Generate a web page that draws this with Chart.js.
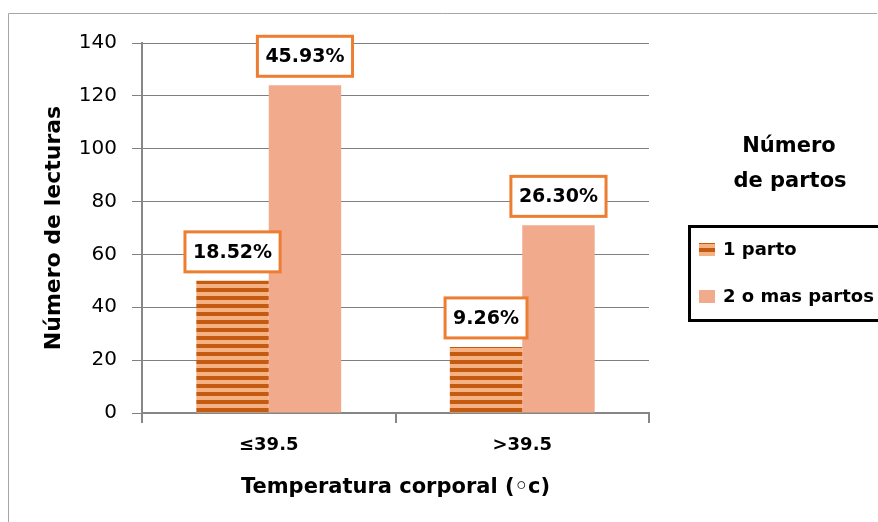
<!DOCTYPE html>
<html>
<head>
<meta charset="utf-8">
<script src="https://cdn.jsdelivr.net/npm/chart.js@4"></script>
<style>
  html, body { margin: 0; padding: 0; background: #fff; }
  #wrap { width: 878px; height: 522px; position: relative; }
</style>
</head>
<body>
<div id="wrap"><canvas id="c" width="878" height="522"></canvas></div>
<script>
// Temperature groups and number of readings per parity group
const categories = ['≤39.5', '>39.5'];
const seriesNames = ['1 parto', '2 o mas partos'];
const unParto = [50, 25];
const dosOMasPartos = [124, 71];
const yTicks = [0, 20, 40, 60, 80, 100, 120, 140];

const totalReadings = unParto.concat(dosOMasPartos).reduce((a, b) => a + b, 0);

// Horizontal stripe fill for the "1 parto" series
function stripePattern(ctx) {
  const p = document.createElement('canvas');
  p.width = 8; p.height = 8;
  const g = p.getContext('2d');
  g.fillStyle = '#F4B183';
  g.fillRect(0, 0, 8, 8);
  g.fillStyle = '#C55A11';
  g.fillRect(0, 0, 8, 4);
  return ctx.createPattern(p, 'repeat');
}

const canvas = document.getElementById('c');
const ctx = canvas.getContext('2d');
const stripes = stripePattern(ctx);
const solidColor = '#F2AA8C';

// Light frame around the figure
const framePlugin = {
  id: 'frame',
  beforeDraw(chart) {
    const c = chart.ctx;
    c.save();
    c.strokeStyle = '#A6A6A6';
    c.lineWidth = 1;
    c.beginPath();
    c.moveTo(8.5, 522);
    c.lineTo(8.5, 13.5);
    c.lineTo(877, 13.5);
    c.stroke();
    c.restore();
  }
};

// Percentage of all readings, shown in a boxed label above each bar
const valueLabelPlugin = {
  id: 'valueLabels',
  afterDatasetsDraw(chart) {
    const c = chart.ctx;
    c.save();
    c.font = 'bold 19px "DejaVu Sans"';
    c.textAlign = 'center';
    c.textBaseline = 'middle';
    chart.data.datasets.forEach((ds, di) => {
      const meta = chart.getDatasetMeta(di);
      meta.data.forEach((el, i) => {
        const text = (ds.data[i] / totalReadings * 100).toFixed(2) + '%';
        const w = c.measureText(text).width + 16;
        const h = 40;
        const bottom = el.y - 9;
        const x = el.x - w / 2;
        const y = bottom - h;
        c.fillStyle = '#fff';
        c.fillRect(x, y, w, h);
        c.strokeStyle = '#ED7D31';
        c.lineWidth = 3;
        c.strokeRect(x, y, w, h);
        c.fillStyle = '#000';
        c.fillText(text, el.x, y + h / 2 + 1);
      });
    });
    c.restore();
  }
};

// Legend with title and black box on the right side
const sideLegendPlugin = {
  id: 'sideLegend',
  afterDraw(chart) {
    const c = chart.ctx;
    c.save();
    c.fillStyle = '#000';
    c.textAlign = 'center';
    c.textBaseline = 'alphabetic';
    c.font = 'bold 21px "DejaVu Sans"';
    c.fillText('Número', 789, 152);
    c.fillText('de partos', 790, 187);

    c.strokeStyle = '#000';
    c.lineWidth = 3;
    c.strokeRect(689.5, 226.5, 200, 94);

    c.font = 'bold 18px "DejaVu Sans"';
    c.textAlign = 'left';
    c.textBaseline = 'middle';
    const rows = [249, 296];
    chart.data.datasets.forEach((ds, i) => {
      const y = rows[i];
      c.fillStyle = ds.backgroundColor;
      c.fillRect(699, y - 6, 16, 13);
      c.fillStyle = '#000';
      c.fillText(ds.label, 723, y + 1);
    });
    c.restore();
  }
};

new Chart(ctx, {
  type: 'bar',
  data: {
    labels: categories,
    datasets: [
      { label: seriesNames[0], data: unParto, backgroundColor: stripes },
      { label: seriesNames[1], data: dosOMasPartos, backgroundColor: solidColor }
    ]
  },
  options: {
    responsive: false,
    animation: false,
    devicePixelRatio: 1,
    layout: { padding: { top: 43, right: 229, bottom: 0, left: 0 } },
    datasets: { bar: { categoryPercentage: 144 / 252, barPercentage: 1.0 } },
    plugins: {
      legend: { display: false },
      tooltip: { enabled: false }
    },
    scales: {
      x: {
        afterFit(scale) { scale.height = 109; },
        grid: {
          drawOnChartArea: false,
          drawTicks: true,
          tickLength: 10,
          color: '#868686',
          lineWidth: 2
        },
        border: { color: '#868686', width: 2 },
        ticks: {
          color: '#000',
          padding: 12,
          font: { family: 'DejaVu Sans', size: 18, weight: 'bold' }
        },
        title: {
          display: true,
          text: 'Temperatura corporal (◦c)',
          color: '#000',
          font: { family: 'DejaVu Sans', size: 21, weight: 'bold' },
          padding: { top: 0, bottom: 22 }
        }
      },
      y: {
        min: 0,
        max: 140,
        afterFit(scale) { scale.width = 142; },
        afterBuildTicks(scale) { scale.ticks = yTicks.map(v => ({ value: v })); },
        grid: {
          color: '#7f7f7f',
          lineWidth: 1,
          tickLength: 10
        },
        border: { color: '#868686', width: 2 },
        ticks: {
          color: '#000',
          padding: 15,
          font: { family: 'DejaVu Sans', size: 20 }
        },
        title: {
          display: true,
          text: 'Número de lecturas',
          color: '#000',
          font: { family: 'DejaVu Sans', size: 22, weight: 'bold' },
          padding: { top: 41, bottom: 0 }
        }
      }
    }
  },
  plugins: [framePlugin, valueLabelPlugin, sideLegendPlugin]
});
</script>
</body>
</html>
